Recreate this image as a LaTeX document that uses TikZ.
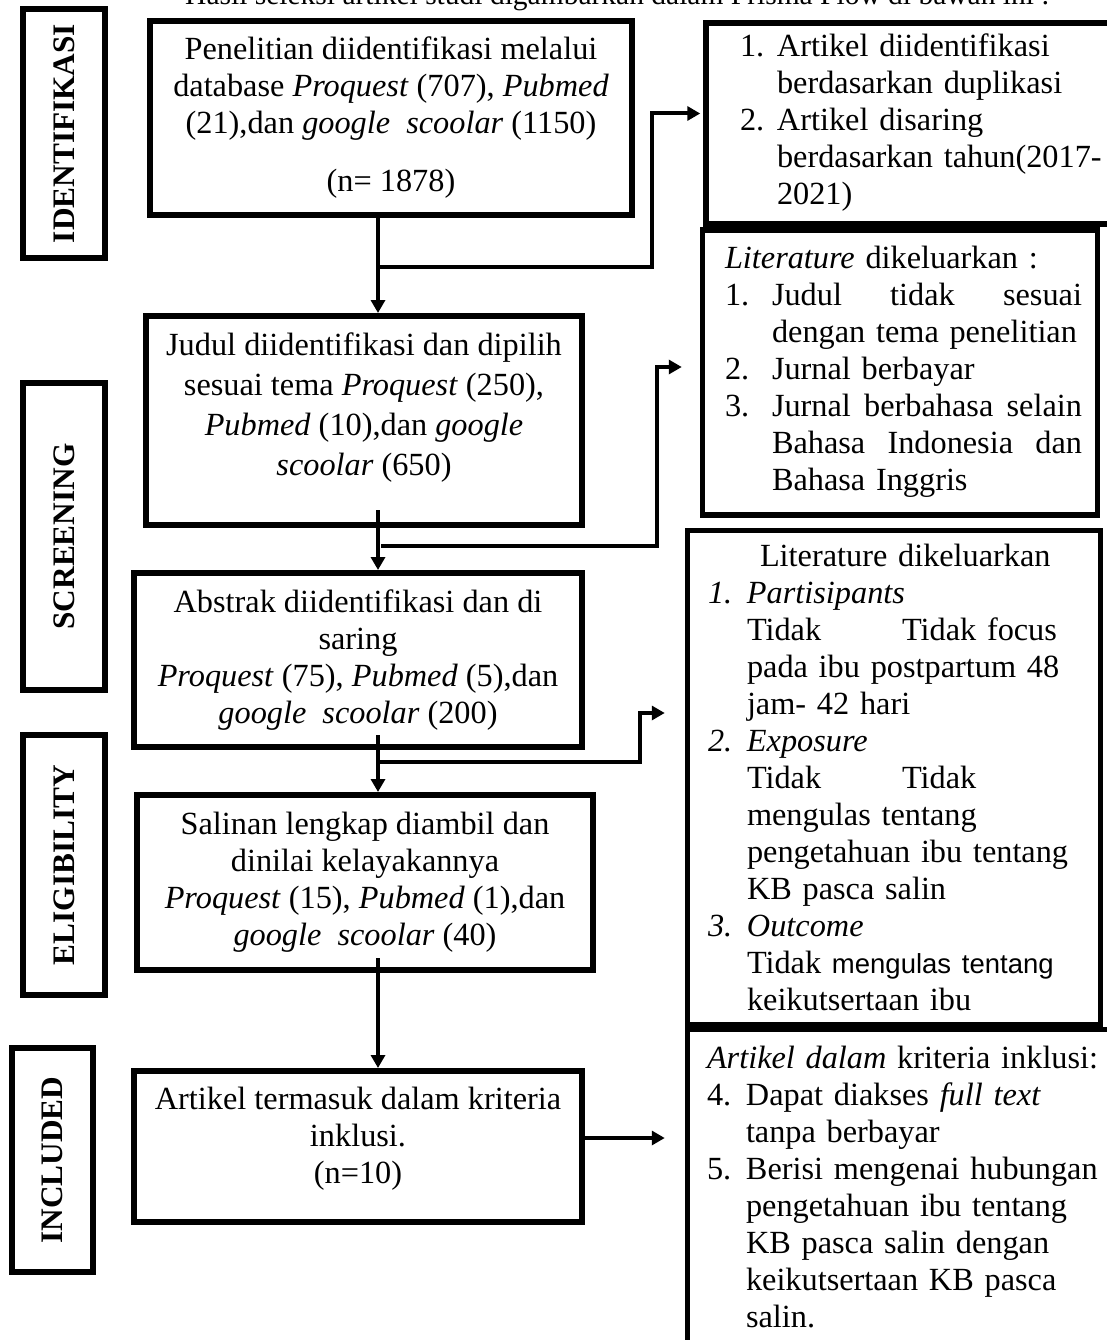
\documentclass[tikz,border=0pt]{standalone}
\usepackage{fontspec}
\setmainfont{Liberation Serif}
\newfontfamily\arialfont{Liberation Sans}
\usepackage{tikz}
\usetikzlibrary{arrows.meta}

\newcommand{\nr}[2][39pt]{\makebox[#1][l]{#2}}
\newcommand{\ind}[1][39pt]{\hspace*{#1}}

\begin{document}
\begin{tikzpicture}[
  x=1pt, y=-1pt,
  box/.style={draw, line width=6pt, align=center, inner sep=0pt, font=\fontsize{32.3}{37}\selectfont},
  note/.style={draw, line width=5.5pt, align=left, inner sep=0pt, font=\fontsize{32.3}{37}\selectfont},
  phase/.style={draw, line width=6pt, rotate=90, inner sep=0pt, font=\fontsize{31.3}{36}\selectfont\bfseries},
  flow/.style={-{Triangle[length=13pt, width=14pt]}, line width=4pt}
]
\useasboundingbox (0,0) rectangle (1107,1340);
\clip (0,0) rectangle (1107,1340);

\node[anchor=base west, inner sep=0pt, font=\fontsize{29.5}{34}\selectfont] (judulatas) at (185,5) {Hasil seleksi artikel studi digambarkan dalam Prisma Flow di bawah ini :};

% tahap
\node[phase, minimum width=249pt, minimum height=82pt] (identifikasi) at (64,133.5) {IDENTIFIKASI};
\node[phase, minimum width=307pt, minimum height=82pt] (screening) at (64,536.5) {SCREENING};
\node[phase, minimum width=260pt, minimum height=82pt] (eligibility) at (64,865) {ELIGIBILITY};
\node[phase, minimum width=224pt, minimum height=81pt] (included) at (52.5,1160) {INCLUDED};

% alur utama
\node[box, minimum width=482pt, minimum height=194pt] (cari) at (391,118) {Penelitian diidentifikasi melalui\\ database \textit{Proquest} (707), \textit{Pubmed}\\ (21),dan \textit{google\ \ scoolar} (1150)\\[21pt] (n= 1878)};
\node[box, minimum width=436pt, minimum height=209pt, font=\fontsize{32.3}{40}\selectfont, text depth=33pt] (judul) at (364,420.5) {Judul diidentifikasi dan dipilih\\ sesuai tema \textit{Proquest} (250),\\ \textit{Pubmed} (10),dan \textit{google}\\ \textit{scoolar} (650)};
\node[box, minimum width=448pt, minimum height=174pt] (abstrak) at (358,660) {Abstrak diidentifikasi dan di\\ saring\\ \textit{Proquest} (75), \textit{Pubmed} (5),dan\\ \textit{google\ \ scoolar} (200)};
\node[box, minimum width=456pt, minimum height=175pt] (salinan) at (365,882.5) {Salinan lengkap diambil dan\\ dinilai kelayakannya\\ \textit{Proquest} (15), \textit{Pubmed} (1),dan\\ \textit{google\ \ scoolar} (40)};
\node[box, minimum width=448pt, minimum height=151pt, text depth=23pt] (inklusi) at (358,1146.5) {Artikel termasuk dalam kriteria\\ inklusi.\\ (n=10)};

% keterangan kanan
\node[note, minimum width=435pt, minimum height=201pt, text width=367pt] (duplikasi) at (923.5,123.5) {\begin{tabular}{@{}l@{}}
  \nr[37pt]{1.}Artikel diidentifikasi\\
  \ind[37pt]berdasarkan duplikasi\\
  \nr[37pt]{2.}Artikel disaring\\
  \ind[37pt]berdasarkan tahun(2017-\\
  \ind[37pt]2021)
\end{tabular}};
\node[note, minimum width=395pt, minimum height=285pt, text width=350pt] (saring) at (900,372.5) {\begin{tabular}{@{}l@{}}
  \textit{Literature} dikeluarkan :\\
  \nr[47pt]{1.}\makebox[310pt][l]{Judul\hfill tidak\hfill sesuai}\\
  \ind[47pt]dengan tema penelitian\\
  \nr[47pt]{2.}Jurnal berbayar\\
  \nr[47pt]{3.}\makebox[310pt][l]{Jurnal\hfill berbahasa\hfill selain}\\
  \ind[47pt]\makebox[310pt][l]{Bahasa\hfill Indonesia\hfill dan}\\
  \ind[47pt]Bahasa Inggris
\end{tabular}};
\node[note, minimum width=413pt, minimum height=494pt, text width=372pt, text height=254pt] (keluar) at (894,777.5) {\begin{tabular}{@{}l@{}}
  \hspace*{52pt}Literature dikeluarkan\\
  \nr{\textit{1.}}\textit{Partisipants}\\
  \ind\makebox[155pt][l]{Tidak}Tidak focus\\
  \ind pada ibu postpartum 48\\
  \ind jam- 42 hari\\
  \nr{\textit{2.}}\textit{Exposure}\\
  \ind\makebox[155pt][l]{Tidak}Tidak\\
  \ind mengulas tentang\\
  \ind pengetahuan ibu tentang\\
  \ind KB pasca salin\\
  \nr{\textit{3.}}\textit{Outcome}\\
  \ind Tidak {\arialfont\fontsize{27.5}{37}\selectfont mengulas tentang}\\
  \ind keikutsertaan ibu
\end{tabular}};
\node[note, minimum width=435pt, minimum height=323pt, text width=396pt] (kriteria) at (905,1191) {\begin{tabular}{@{}l@{}}
  \textit{Artikel dalam} kriteria inklusi:\\
  \nr{4.}Dapat diakses \textit{full text}\\
  \ind tanpa berbayar\\
  \nr{5.}Berisi mengenai hubungan\\
  \ind pengetahuan ibu tentang\\
  \ind KB pasca salin dengan\\
  \ind keikutsertaan KB pasca\\
  \ind salin.
\end{tabular}};

% panah
\coordinate (kolom) at (378,0);
\coordinate (cabang1) at (378,267);
\coordinate (cabang2) at (381,546);
\coordinate (cabang3) at (378,762);

\draw[flow] (cari.south -| kolom) -- (judul.north -| kolom);
\draw[flow] ([yshift=18pt]judul.south -| kolom) -- (abstrak.north -| kolom);
\draw[flow] ([yshift=15pt]abstrak.south -| kolom) -- (salinan.north -| kolom);
\draw[flow] ([yshift=15pt]salinan.south -| kolom) -- (inklusi.north -| kolom);

\draw[flow, shorten >=3pt] (cabang1) -| ([xshift=-51pt,yshift=10pt]duplikasi.west) -- ([yshift=10pt]duplikasi.west);
\draw[flow, shorten >=18pt] (cabang2) -| ([xshift=-43pt,yshift=5.5pt]saring.west) -- ([yshift=5.5pt]saring.west);
\draw[flow, shorten >=20pt] (cabang3) -| ([xshift=-45pt,yshift=64.5pt]keluar.west) -- ([yshift=64.5pt]keluar.west);
\draw[flow, shorten >=20pt] ([yshift=8.5pt]inklusi.east) -- ([yshift=8.5pt]inklusi.east -| kriteria.west);
\end{tikzpicture}
\end{document}
